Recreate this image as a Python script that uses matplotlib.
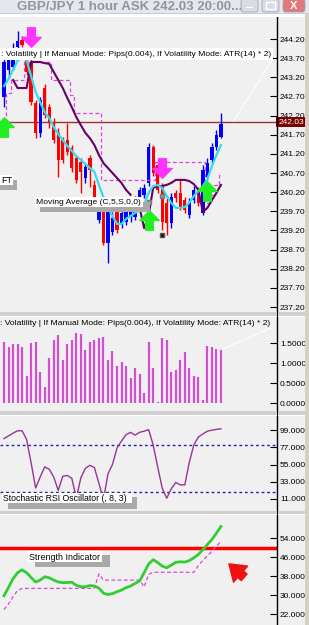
import numpy as np
import matplotlib.pyplot as plt
from matplotlib.path import Path
from matplotlib.patches import Rectangle, FancyBboxPatch

plt.rcParams['font.family'] = ['Liberation Sans', 'DejaVu Sans']

W, H = 309, 625

# ---- data (GBP/JPY 1 hour) ----
opens = [242.69, 243.40, 243.47, 243.99, 244.17, 243.78, 243.57, 242.53, 241.75, 242.92,
         242.42, 242.01, 241.75, 241.56, 241.56, 241.35, 241.09, 240.99, 240.57, 241.09,
         240.39, 239.47, 239.68, 238.87, 239.16, 239.79, 239.34, 239.42, 239.55, 239.55,
         239.79, 240.13, 240.44, 241.38, 240.91, 240.33, 239.92, 239.39, 240.18, 240.18,
         239.99, 239.60, 239.99, 240.26, 239.66, 240.60, 241.04, 241.38, 241.64]
closes = [243.60, 243.85, 243.86, 244.15, 244.04, 243.34, 242.55, 241.75, 242.61, 242.22,
          242.01, 241.56, 241.04, 241.04, 241.25, 240.83, 240.52, 240.73, 240.86, 240.78,
          239.86, 239.79, 238.87, 239.73, 239.53, 239.21, 239.66, 239.81, 239.79, 239.99,
          240.26, 240.31, 241.38, 240.70, 240.26, 239.42, 239.39, 240.07, 240.05, 239.81,
          239.73, 239.94, 240.26, 239.92, 240.78, 240.96, 241.38, 241.69, 241.98]
highs = [243.70, 243.91, 244.10, 244.41, 244.28, 243.91, 243.70, 242.61, 242.69, 243.02,
         242.50, 242.14, 241.88, 241.64, 242.01, 241.43, 241.17, 241.09, 240.94, 241.17,
         240.52, 239.92, 239.79, 239.86, 239.68, 239.86, 239.79, 239.89, 239.92, 240.10,
         240.33, 240.41, 241.48, 241.43, 240.99, 240.44, 240.05, 240.18, 240.26, 240.52,
         240.07, 240.05, 240.36, 240.33, 240.91, 241.09, 241.48, 241.82, 242.27]
lows = [242.42, 243.18, 243.39, 243.94, 243.99, 243.26, 242.48, 241.61, 241.64, 242.14,
        241.88, 241.48, 240.60, 240.96, 241.17, 240.73, 240.44, 240.18, 240.44, 240.33,
        239.73, 239.39, 238.82, 238.35, 239.08, 239.13, 239.26, 239.34, 239.42, 239.47,
        239.71, 240.05, 240.36, 240.62, 240.18, 239.21, 239.08, 239.26, 239.94, 239.73,
        239.66, 239.53, 239.92, 239.84, 239.60, 240.52, 240.96, 241.30, 241.61]

ma5 = [242.97, 243.16, 243.39, 243.63, 243.73, 243.65, 243.23, 242.82, 242.55, 242.29,
       242.14, 241.90, 241.72, 241.56, 241.41, 241.28, 241.14, 241.04, 240.94, 240.83,
       240.73, 240.39, 240.07, 239.79, 239.58, 239.37, 239.37, 239.50, 239.58, 239.66,
       239.73, 239.89, 240.18, 240.36, 240.39, 240.31, 240.10, 239.92, 239.79, 239.79,
       239.81, 239.92, 240.10, 240.23, 240.36, 240.54, 240.88, 241.17, 241.43]

nan = np.nan
band = [nan, nan, 243.13, 242.92, 242.92, 242.92, 243.60, 243.60, 243.60, 243.57,
        243.55, 243.34, 243.13, 242.92, 242.66, 242.42, 242.16, 241.95, 241.75, 241.61,
        241.43, 241.17, 240.96, 240.83, 240.70, 240.57, 240.44, 240.26, 240.13, nan,
        239.79, 239.26, 239.60, 240.31, 240.36, 240.36, 240.39, 240.44, 240.52, 240.52,
        240.52, 240.49, 240.41, 240.26, 239.68, 239.79, 239.99, 240.18, 240.39]

stop = [242.08, 242.79, 243.13, 243.13, 243.13, 243.60, 243.60, 243.60, 243.60, 243.60,
        243.60, 243.13, 243.13, 243.13, 243.13, 242.74, 242.27, 242.27, 242.27, 242.27,
        242.27, 242.27, 240.52, 240.52, 240.52, 240.52, 240.52, 240.52, 240.52, 240.52,
        240.52, 240.52, 240.52, 240.52, 240.99, 240.99, 240.99, 240.99, 240.99, 240.99,
        240.99, 240.99, 240.99, 240.99, 240.99, 239.92, 240.13, 240.39, 240.65]

# signal arrows: (bar, price)
buy_idx = [0, 32, 45]
buy_px = [241.91, 239.47, 240.22]
sell_idx = [6, 35]
sell_px = [244.24, 240.83]
dot_idx = [35]
dot_px = [239.09]
gray_idx = [32, 35]
gray_px = [239.94, 240.11]
last_price = 242.03

volatility = [1.54, 1.40, 1.49, 1.475, 1.40, 0.69, 1.52, 1.54, 0.78, 0.41,
              1.12, 1.58, 1.71, 1.075, 1.48, 1.58, 1.75, 1.73, 1.33, 1.525,
              1.58, 1.625, 1.67, 1.075, 1.31, 0.925, 1.025, 0.92, 0.64, 0.87,
              0.725, 0.25, 1.54, 0.87, 0.03, 1.64, 1.58, 0.78, 0.83, 1.09,
              1.275, 0.89, 0.68, 0.65, 0.07, 1.43, 1.40, 1.36, 1.36]

stoch = [88, 91.5, 95, 98, 98, 87, 57, 25, 39, 52,
         49, 39, 22, 40, 41, 37.5, 12, 38, 50, 54,
         51, 31, 10, 43, 55, 76, 85, 93, 96, 92.5,
         96, 97.5, 99.5, 80, 52, 25, 12, 24, 32, 29,
         29, 58, 80, 90, 94, 97.5, 98.8, 99.8, 100.5]

strength = [29.8, 33.3, 37.0, 39.5, 40.7, 39.5, 37.5, 35.6, 36.4, 37.8,
            37.4, 36.4, 35.6, 35.3, 35.4, 35.5, 34.2, 33.6, 33.6, 34.1,
            33.9, 33.0, 30.9, 30.3, 30.7, 31.5, 32.2, 33.2, 33.9, 35.0,
            36.0, 39.5, 43.2, 45.0, 43.8, 42.3, 41.6, 42.7, 43.9, 44.1,
            44.0, 44.6, 45.8, 47.2, 49.2, 51.4, 53.5, 56.2, 59.0]
strength_sig = [24.0, 26.4, 29.4, 32.0, 32.9, 32.9, 32.9, 32.9, 32.9, 32.9,
                32.9, 32.9, 32.9, 32.9, 32.9, 32.9, 32.9, 32.9, 32.9, 32.9,
                33.0, 39.0, 36.4, 36.4, 36.4, 36.4, 36.4, 36.4, 36.4, 36.4,
                36.4, 33.5, 38.8, 39.7, 39.7, 39.7, 39.7, 39.7, 39.7, 39.7,
                39.7, 39.7, 39.7, 42.5, 44.7, 46.6, 48.5, 50.8, 52.5]
strength_level = 50

price_ticks = [244.20, 243.70, 243.20, 242.70, 242.20, 241.70, 241.20, 240.70,
               240.20, 239.70, 239.20, 238.70, 238.20, 237.70, 237.20]
vol_ticks = [1.5, 1.0, 0.5, 0.0]
vol_labels = ['1.5000', '1.0000', '0.5000', '0.0000']
stoch_ticks = [99, 77, 55, 33, 11]
stoch_labels = ['99.000', '77.000', '55.000', '33.000', '11.0000']
stoch_levels = [80, 20]
strength_ticks = [54, 46, 38, 30, 22]
strength_labels = ['54.000', '46.000', '38.000', '30.000', '22.000']

title = 'GBP/JPY 1 hour ASK 242.03 20:00...'
vol_title = ': Volatility | If Manual Mode: Pips(0.004), If Volatility Mode: ATR(14) * 2)'

bars = np.arange(len(closes))

fig = plt.figure(figsize=(W / 100, H / 100), dpi=100)
fig.patch.set_facecolor('#F0F0F0')


def frect(x0, y0, x1, y1, color, z=1, **kw):
    fig.patches.append(Rectangle((x0 / W, 1 - y1 / H), (x1 - x0) / W, (y1 - y0) / H,
                                 transform=fig.transFigure, facecolor=color,
                                 edgecolor='none', zorder=z, **kw))


def ftext(x, y, s, **kw):
    fig.text(x / W, 1 - y / H, s, **kw)


def panel(y0, y1, lo, hi):
    ax = fig.add_axes([0, 1 - y1 / H, 277 / W, (y1 - y0) / H])
    ax.set_facecolor('#F0F0F0')
    for s in ['left', 'top', 'bottom']:
        ax.spines[s].set_visible(False)
    ax.spines['right'].set_linewidth(1)
    ax.set_xlim(-0.885, 60.4)
    ax.set_ylim(lo, hi)
    ax.set_xticks([])
    ax.yaxis.tick_right()
    ax.tick_params(axis='y', direction='in', length=5, width=0.8, pad=2.2, labelsize=6)
    return ax


def label_box(x0, y0, x1, y1, text, size, shadow=None):
    if shadow:
        frect(*shadow, '#A9A9A9', z=5)
    frect(x0, y0, x1, y1, 'white', z=6)
    ftext(x0 + 1, (y0 + y1) / 2 + 0.5, text, fontsize=size, va='center', ha='left', zorder=7)


# ---- price panel ----
ax = panel(17, 312, 244.20 - (312 - 39) / 38.29, 244.20 + (39 - 17) / 38.29)
ax.set_yticks(price_ticks)
ax.set_yticklabels(['%.2f' % t for t in price_ticks])

up = np.array(closes) >= np.array(opens)
ccol = np.where(up, '#0000FF', '#FF0000')
ax.vlines(bars, lows, highs, colors=ccol, lw=1, zorder=2)
ax.bar(bars, np.array(closes) - np.array(opens), bottom=opens, width=0.72,
       color=ccol, edgecolor='none', zorder=2)

ax.axhline(last_price, color='#993333', lw=1, zorder=1.5)
ax.plot(bars, stop, color='#DD44DD', lw=0.9, ls=(0, (3, 2)), drawstyle='steps-mid', zorder=3)
ax.plot(bars, band, color='#660066', lw=1.5, zorder=4)
ax.plot(bars, ma5, color='#33DDEE', lw=1.6, zorder=4)
ax.plot([50.5, 59.3], [242.0, 243.65], color='white', lw=0.8, zorder=1)

up_arrow = Path([(-0.2, -0.5), (0.2, -0.5), (0.2, 0.0), (0.5, 0.0), (0.0, 0.5),
                 (-0.5, 0.0), (-0.2, 0.0), (-0.2, -0.5)], closed=True)
down_arrow = Path([(x, -y) for x, y in up_arrow.vertices], closed=True)
ax.plot(buy_idx, buy_px, ls='none', marker=up_arrow, ms=14, mfc='#22EE22', mec='#22EE22', zorder=5)
ax.plot(sell_idx, sell_px, ls='none', marker=down_arrow, ms=14, mfc='#FF33FF', mec='#FF33FF', zorder=5)
ax.plot(dot_idx, dot_px, ls='none', marker='s', ms=3.5, mfc='#111111', mec='#555555', zorder=5)
ax.plot(gray_idx, gray_px, ls='none', marker='s', ms=3, mfc='#999999', mec='#777777', zorder=5)

ax.text(1.004, last_price, '%.2f' % last_price, transform=ax.get_yaxis_transform(),
        color='white', fontsize=6, va='center', ha='left', clip_on=False, zorder=10,
        bbox=dict(facecolor='#7A0000', edgecolor='none', pad=1.2))

# ---- volatility panel ----
ax2 = panel(317, 411, (403.3 - 411) / 40, (403.3 - 317) / 40)
ax2.set_yticks(vol_ticks)
ax2.set_yticklabels(vol_labels)
ax2.vlines(bars, 0, volatility, colors='#D050D0', lw=1.6)
ax2.plot([48, 58.9], [1.34, 1.88], color='white', lw=0.8)

# ---- stochastic RSI panel ----
ax3 = panel(416, 511, 11 - 12 / 0.784, 99 + 14 / 0.784)
ax3.set_yticks(stoch_ticks)
ax3.set_yticklabels(stoch_labels)
for lv in stoch_levels:
    ax3.axhline(lv, color='#2222AA', lw=1, ls=(0, (2, 2)))
ax3.plot(bars, stoch, color='#993399', lw=1)

# ---- strength panel ----
ax4 = panel(515, 625, 22 - 10.7 / 2.375, 54 + 23.3 / 2.375)
ax4.set_yticks(strength_ticks)
ax4.set_yticklabels(strength_labels)
ax4.axhline(strength_level, color='#FF0000', lw=2.5)
ax4.plot(bars, strength_sig, color='#DD44DD', lw=0.9, ls=(0, (3, 2)))
ax4.plot(bars, strength, color='#33CC33', lw=2)
ax4.annotate('', xy=(49.3, 44.0), xytext=(53.6, 36.8),
             arrowprops=dict(arrowstyle='simple,head_length=0.8,head_width=1.1,tail_width=0.45',
                             color='#EE1111', mutation_scale=14))

# ---- window chrome ----
frect(0, 0, 309, 12.5, '#E4E8EE', z=2)
frect(0, 12.5, 309, 14, '#C8CCD8', z=2)
frect(0, 14, 309, 17, 'white', z=2)
ftext(17, 10, title, fontsize=9.5, fontweight='bold', color='#8E959E', va='baseline', zorder=3)
for bx0, bx1, col in [(241, 258, '#D9DDE3'), (262, 279, '#D9DDE3'), (283, 305, '#E07A7A')]:
    fig.patches.append(FancyBboxPatch((bx0 / W, 1 - 12 / H), (bx1 - bx0) / W, 13 / H,
                                      boxstyle='round,pad=0,rounding_size=0.006',
                                      transform=fig.transFigure, facecolor=col,
                                      edgecolor='#A0A6B0', lw=0.6, zorder=3))
frect(246, 6.5, 253, 8, 'white', z=4)
fig.patches.append(Rectangle((266 / W, 1 - 9 / H), 9 / W, 7 / H, transform=fig.transFigure,
                             facecolor='none', edgecolor='white', lw=1, zorder=4))
ftext(294, 6, 'X', fontsize=8, fontweight='bold', color='white', ha='center', va='center', zorder=4)

# panel separators and right frame
for sy0, sy1 in [(312, 316.5), (411, 415.5), (511, 515)]:
    frect(0, sy0, 305, sy1, '#CFCFCF', z=2)
    frect(0, sy1 - 1, 305, sy1, 'white', z=2)
frect(276.5, 17, 277.5, 625, 'black', z=2.5)
frect(305, 14, 309, 625, '#D4D0C8', z=2)

# ---- indicator labels ----
label_box(0, 47.5, 273, 59.5, vol_title, 6.1)
ftext(0, 323.5, vol_title, fontsize=6.1, va='center', ha='left', zorder=7)
label_box(0, 175, 13, 185, 'FT', 6.5, shadow=(0, 180, 17, 190))
label_box(35, 197, 143, 207, 'Moving Average (C,5,S,0,0)', 6.1, shadow=(40, 202, 150, 212))
label_box(2, 493, 132, 503, 'Stochastic RSI Oscillator (, 8, 3)', 6.3, shadow=(8, 497, 137, 509))
label_box(28, 551, 102, 562, 'Strength Indicator', 6.4, shadow=(35, 555, 110, 567))

fig.savefig('out.png', dpi=100, facecolor=fig.get_facecolor())
